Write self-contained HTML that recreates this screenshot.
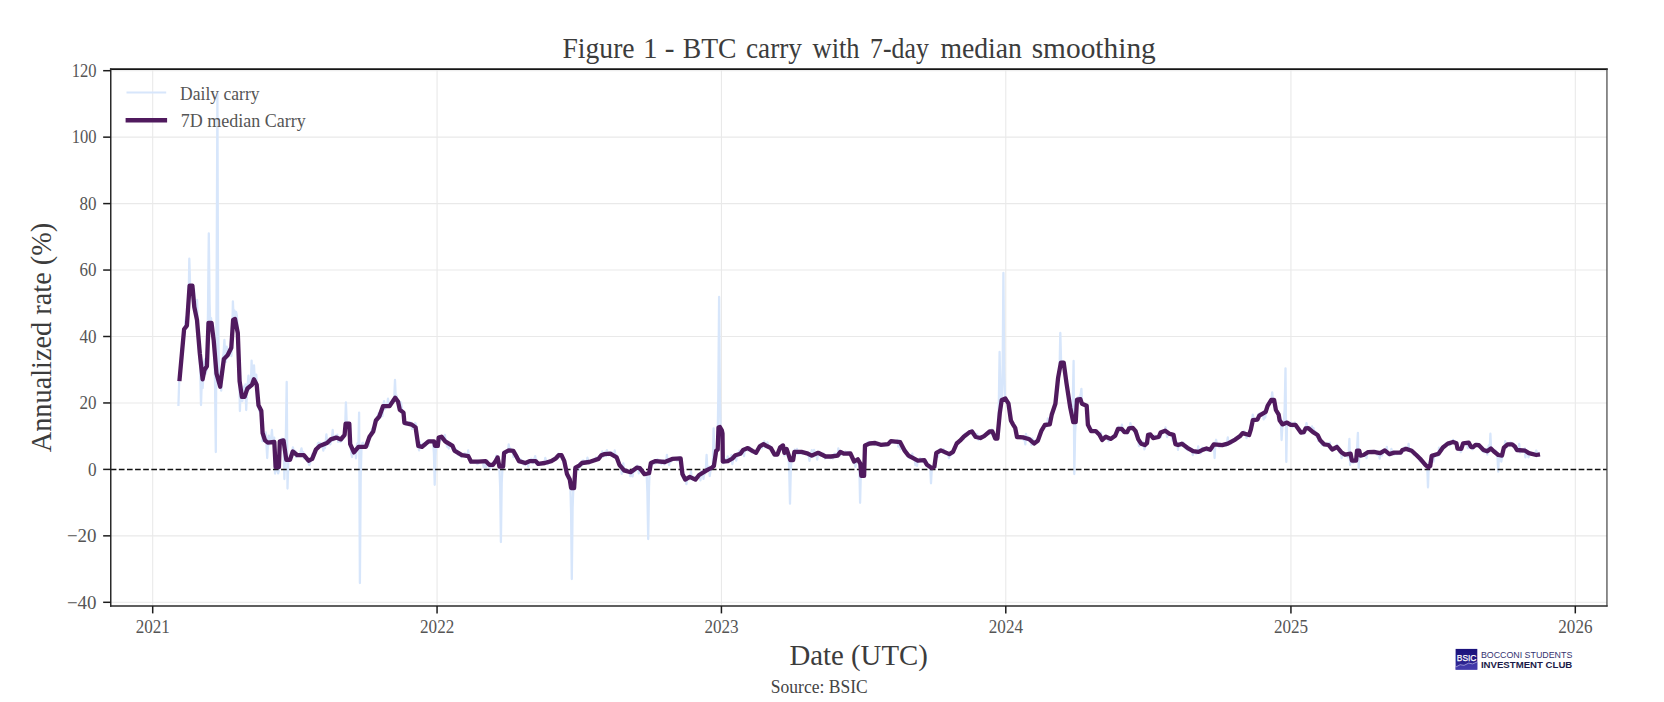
<!DOCTYPE html>
<html lang="en"><head><meta charset="utf-8"><title>Figure 1 - BTC carry with 7-day median smoothing</title>
<style>
html,body{margin:0;padding:0;background:#fff;}
body{width:1664px;height:702px;overflow:hidden;}
svg{display:block;}
text{font-family:"Liberation Serif", serif;}
.tk{font-size:18.2px;fill:#555;}
.sans{font-family:"Liberation Sans", sans-serif;}
</style></head><body>
<svg width="1664" height="702" viewBox="0 0 1664 702">
<rect width="1664" height="702" fill="#ffffff"/>

<g stroke="#e9e9e9" stroke-width="1.1" fill="none">
<line x1="152.70" y1="69.15" x2="152.70" y2="606.0"/>
<line x1="437.06" y1="69.15" x2="437.06" y2="606.0"/>
<line x1="721.43" y1="69.15" x2="721.43" y2="606.0"/>
<line x1="1005.79" y1="69.15" x2="1005.79" y2="606.0"/>
<line x1="1290.94" y1="69.15" x2="1290.94" y2="606.0"/>
<line x1="1575.30" y1="69.15" x2="1575.30" y2="606.0"/>
<line x1="110.75" y1="602.30" x2="1606.9" y2="602.30"/>
<line x1="110.75" y1="535.85" x2="1606.9" y2="535.85"/>
<line x1="110.75" y1="402.95" x2="1606.9" y2="402.95"/>
<line x1="110.75" y1="336.50" x2="1606.9" y2="336.50"/>
<line x1="110.75" y1="270.05" x2="1606.9" y2="270.05"/>
<line x1="110.75" y1="203.60" x2="1606.9" y2="203.60"/>
<line x1="110.75" y1="137.15" x2="1606.9" y2="137.15"/>
<line x1="110.75" y1="70.70" x2="1606.9" y2="70.70"/>
</g>
<path d="M178.4,406.0 L179.2,381.2 L180.0,374.9 L180.7,365.2 L181.5,348.5 L182.3,352.4 L183.1,342.7 L183.9,335.4 L184.6,334.9 L185.4,321.3 L186.2,317.2 L187.0,326.1 L187.7,307.7 L188.5,310.9 L189.3,258.7 L190.1,284.6 L190.9,286.4 L191.6,286.1 L192.4,286.3 L193.2,304.1 L194.0,289.1 L194.8,306.8 L195.5,312.8 L196.3,307.4 L197.1,300.0 L197.9,332.5 L198.7,346.5 L199.4,352.2 L200.2,368.5 L201.0,405.0 L201.8,380.6 L202.6,388.2 L203.3,377.2 L204.1,362.1 L204.9,359.5 L205.7,373.7 L206.4,370.8 L207.2,359.1 L208.0,311.2 L208.8,233.4 L209.6,303.1 L210.3,326.2 L211.1,318.2 L211.9,330.8 L212.7,332.3 L213.5,333.7 L214.2,349.2 L215.0,380.3 L215.8,452.0 L216.6,294.7 L217.4,93.6 L218.1,317.2 L218.9,375.4 L219.7,382.9 L220.5,378.1 L221.2,390.7 L222.0,373.0 L222.8,357.7 L223.6,353.5 L224.4,340.0 L225.1,354.0 L225.9,361.9 L226.7,346.7 L227.5,350.9 L228.3,355.5 L229.0,349.9 L229.8,353.0 L230.6,350.3 L231.4,356.0 L232.2,336.6 L232.9,301.3 L233.7,320.5 L234.5,310.7 L235.3,327.8 L236.1,311.9 L236.8,315.5 L237.6,326.6 L238.4,347.1 L239.2,367.2 L239.9,411.0 L240.7,387.8 L241.5,394.3 L242.3,401.0 L243.1,396.1 L243.8,386.6 L244.6,393.5 L245.4,384.3 L246.2,410.0 L247.0,391.4 L247.7,384.2 L248.5,375.6 L249.3,389.4 L250.1,386.5 L250.9,383.8 L251.6,360.7 L252.4,385.1 L253.2,378.8 L254.0,365.3 L254.7,379.0 L255.5,377.9 L256.3,374.7 L257.1,398.5 L257.9,393.9 L258.6,405.0 L259.4,411.4 L260.2,408.5 L261.0,411.1 L261.8,418.7 L262.5,441.3 L263.3,440.9 L264.1,436.3 L264.9,435.0 L265.7,432.4 L266.4,442.9 L267.2,458.0 L268.0,442.1 L268.8,435.6 L269.6,444.4 L270.3,441.5 L271.1,439.1 L271.9,430.0 L272.7,441.1 L273.4,441.7 L274.2,437.7 L275.0,473.5 L275.8,467.4 L276.6,466.9 L277.3,469.2 L278.1,473.4 L278.9,470.2 L279.7,450.1 L280.5,444.0 L281.2,439.3 L282.0,438.8 L282.8,440.5 L283.6,440.8 L284.4,479.0 L285.1,451.5 L285.9,435.3 L286.7,382.0 L287.5,488.5 L288.3,461.9 L289.0,459.0 L289.8,458.7 L290.6,460.2 L291.4,451.6 L292.1,453.2 L292.9,447.4 L293.7,451.4 L294.5,451.9 L295.3,451.0 L296.0,457.2 L296.8,454.3 L297.6,455.7 L298.4,455.5 L299.2,453.9 L299.9,456.1 L300.7,452.0 L301.5,448.3 L302.3,453.8 L303.1,452.0 L303.8,458.4 L304.6,456.2 L305.4,458.1 L306.2,458.3 L306.9,458.4 L307.7,461.5 L308.5,463.1 L309.3,465.0 L310.1,462.9 L310.8,458.9 L311.6,458.8 L312.4,454.2 L313.2,457.7 L314.0,454.6 L314.7,449.6 L315.5,453.2 L316.3,449.7 L317.1,448.8 L317.9,443.5 L318.6,442.7 L319.4,444.1 L320.2,442.9 L321.0,443.8 L321.8,445.1 L322.5,444.0 L323.3,450.6 L324.1,442.4 L324.9,448.1 L325.6,443.0 L326.4,434.3 L327.2,443.8 L328.0,441.5 L328.8,439.8 L329.5,443.0 L330.3,444.3 L331.1,440.9 L331.9,440.1 L332.7,430.0 L333.4,440.4 L334.2,437.2 L335.0,437.2 L335.8,435.6 L336.6,438.1 L337.3,434.6 L338.1,441.9 L338.9,437.6 L339.7,439.8 L340.4,442.0 L341.2,437.2 L342.0,440.3 L342.8,439.1 L343.6,436.6 L344.3,436.4 L345.1,429.9 L345.9,402.4 L346.7,423.4 L347.5,421.9 L348.2,427.9 L349.0,426.5 L349.8,436.8 L350.6,443.7 L351.4,454.3 L352.1,457.0 L352.9,450.6 L353.7,451.9 L354.5,451.6 L355.3,451.0 L356.0,458.3 L356.8,445.6 L357.6,443.2 L358.4,445.6 L359.1,412.6 L359.9,583.0 L360.7,476.8 L361.5,447.5 L362.3,443.2 L363.0,442.7 L363.8,445.8 L364.6,446.6 L365.4,445.0 L366.2,445.8 L366.9,446.1 L367.7,443.2 L368.5,446.1 L369.3,435.6 L370.1,438.2 L370.8,432.9 L371.6,430.7 L372.4,428.5 L373.2,428.3 L373.9,428.0 L374.7,421.1 L375.5,424.2 L376.3,418.9 L377.1,420.4 L377.8,415.5 L378.6,413.1 L379.4,413.9 L380.2,417.7 L381.0,413.8 L381.7,408.8 L382.5,416.0 L383.3,405.3 L384.1,401.2 L384.9,409.1 L385.6,407.7 L386.4,406.5 L387.2,404.6 L388.0,398.7 L388.8,404.2 L389.5,405.3 L390.3,403.1 L391.1,403.1 L391.9,402.4 L392.6,399.3 L393.4,402.4 L394.2,399.0 L395.0,380.0 L395.8,400.1 L396.5,395.4 L397.3,399.8 L398.1,402.0 L398.9,401.4 L399.7,410.9 L400.4,401.8 L401.2,403.4 L402.0,410.1 L402.8,414.7 L403.6,416.7 L404.3,422.1 L405.1,422.7 L405.9,424.6 L406.7,423.6 L407.4,423.6 L408.2,423.7 L409.0,423.5 L409.8,422.1 L410.6,422.4 L411.3,423.8 L412.1,429.2 L412.9,426.1 L413.7,426.2 L414.5,425.6 L415.2,423.0 L416.0,424.5 L416.8,433.6 L417.6,442.2 L418.4,446.8 L419.1,450.3 L419.9,442.2 L420.7,446.1 L421.5,445.8 L422.3,446.1 L423.0,443.8 L423.8,445.6 L424.6,444.5 L425.4,446.1 L426.1,443.0 L426.9,442.7 L427.7,443.2 L428.5,442.7 L429.3,441.9 L430.0,440.3 L430.8,441.3 L431.6,442.2 L432.4,442.1 L433.2,443.8 L433.9,452.6 L434.7,484.8 L435.5,454.8 L436.3,443.8 L437.1,447.3 L437.8,447.2 L438.6,437.1 L439.4,441.5 L440.2,437.3 L440.9,440.2 L441.7,436.5 L442.5,436.6 L443.3,437.9 L444.1,440.0 L444.8,434.8 L445.6,440.3 L446.4,443.9 L447.2,446.7 L448.0,442.0 L448.7,448.5 L449.5,446.5 L450.3,444.8 L451.1,443.9 L451.9,447.2 L452.6,449.0 L453.4,447.0 L454.2,450.1 L455.0,448.7 L455.8,449.1 L456.5,450.8 L457.3,452.8 L458.1,454.7 L458.9,451.8 L459.6,453.6 L460.4,455.0 L461.2,457.1 L462.0,455.0 L462.8,454.5 L463.5,455.5 L464.3,453.3 L465.1,453.4 L465.9,455.1 L466.7,456.9 L467.4,456.9 L468.2,450.4 L469.0,457.1 L469.8,459.4 L470.6,462.9 L471.3,461.3 L472.1,462.4 L472.9,461.3 L473.7,462.5 L474.5,461.3 L475.2,462.2 L476.0,461.6 L476.8,463.6 L477.6,464.0 L478.3,460.7 L479.1,462.0 L479.9,461.1 L480.7,461.3 L481.5,462.2 L482.2,461.3 L483.0,463.0 L483.8,467.2 L484.6,461.0 L485.4,461.0 L486.1,467.4 L486.9,461.1 L487.7,461.0 L488.5,465.0 L489.3,465.2 L490.0,469.1 L490.8,463.6 L491.6,464.2 L492.4,466.5 L493.1,465.9 L493.9,462.1 L494.7,461.0 L495.5,461.6 L496.3,455.7 L497.0,457.9 L497.8,458.4 L498.6,461.8 L499.4,467.7 L500.2,487.8 L500.9,542.0 L501.7,483.3 L502.5,466.8 L503.3,463.6 L504.1,456.5 L504.8,453.0 L505.6,451.7 L506.4,451.6 L507.2,452.2 L508.0,451.8 L508.7,444.4 L509.5,450.0 L510.3,448.3 L511.1,450.6 L511.8,449.9 L512.6,450.0 L513.4,457.2 L514.2,452.6 L515.0,453.1 L515.7,454.8 L516.5,454.8 L517.3,457.6 L518.1,460.0 L518.9,462.0 L519.6,462.0 L520.4,459.3 L521.2,460.8 L522.0,461.1 L522.8,461.0 L523.5,463.8 L524.3,464.8 L525.1,461.7 L525.9,463.2 L526.6,462.5 L527.4,462.5 L528.2,466.6 L529.0,460.7 L529.8,461.4 L530.5,460.6 L531.3,458.8 L532.1,461.9 L532.9,463.0 L533.7,458.8 L534.4,459.2 L535.2,456.1 L536.0,462.1 L536.8,464.3 L537.6,461.8 L538.3,463.2 L539.1,463.1 L539.9,464.4 L540.7,463.7 L541.5,464.0 L542.2,462.6 L543.0,463.4 L543.8,462.2 L544.6,462.1 L545.3,458.0 L546.1,461.1 L546.9,461.9 L547.7,464.2 L548.5,462.0 L549.2,461.2 L550.0,460.5 L550.8,461.6 L551.6,461.1 L552.4,459.9 L553.1,460.8 L553.9,460.9 L554.7,458.7 L555.5,457.1 L556.3,459.0 L557.0,457.8 L557.8,458.5 L558.6,453.7 L559.4,454.0 L560.1,455.4 L560.9,457.3 L561.7,457.9 L562.5,457.6 L563.3,462.4 L564.0,460.3 L564.8,467.2 L565.6,467.9 L566.4,470.4 L567.2,474.8 L567.9,476.3 L568.7,476.5 L569.5,478.4 L570.3,483.8 L571.1,513.2 L571.8,579.0 L572.6,508.0 L573.4,486.4 L574.2,486.8 L575.0,475.1 L575.7,467.3 L576.5,467.5 L577.3,466.6 L578.1,466.0 L578.8,469.8 L579.6,463.2 L580.4,463.3 L581.2,462.9 L582.0,465.3 L582.7,460.6 L583.5,460.5 L584.3,463.0 L585.1,461.7 L585.9,463.5 L586.6,462.7 L587.4,457.6 L588.2,460.5 L589.0,463.2 L589.8,461.3 L590.5,462.2 L591.3,460.6 L592.1,460.6 L592.9,460.8 L593.6,460.4 L594.4,459.5 L595.2,459.5 L596.0,457.5 L596.8,459.8 L597.5,459.7 L598.3,458.7 L599.1,458.6 L599.9,458.4 L600.7,455.7 L601.4,455.1 L602.2,451.4 L603.0,456.9 L603.8,454.5 L604.6,453.4 L605.3,451.8 L606.1,456.0 L606.9,450.1 L607.7,453.5 L608.5,455.3 L609.2,453.1 L610.0,453.0 L610.8,453.2 L611.6,452.2 L612.3,454.7 L613.1,454.8 L613.9,456.1 L614.7,450.4 L615.5,456.8 L616.2,454.9 L617.0,457.8 L617.8,460.5 L618.6,460.6 L619.4,466.7 L620.1,466.6 L620.9,466.3 L621.7,473.8 L622.5,468.2 L623.3,463.3 L624.0,471.9 L624.8,469.5 L625.6,470.4 L626.4,470.6 L627.2,469.9 L627.9,472.0 L628.7,471.1 L629.5,472.7 L630.3,476.2 L631.0,471.7 L631.8,473.4 L632.6,476.4 L633.4,470.0 L634.2,469.8 L634.9,471.4 L635.7,470.3 L636.5,468.1 L637.3,465.7 L638.1,468.5 L638.8,473.4 L639.6,467.4 L640.4,469.1 L641.2,470.1 L642.0,471.5 L642.7,470.2 L643.5,473.7 L644.3,473.3 L645.1,474.2 L645.8,473.2 L646.6,473.3 L647.4,491.9 L648.2,539.0 L649.0,487.6 L649.7,469.1 L650.5,464.4 L651.3,463.1 L652.1,462.6 L652.9,464.0 L653.6,461.5 L654.4,462.1 L655.2,463.6 L656.0,461.9 L656.8,460.3 L657.5,459.2 L658.3,462.3 L659.1,461.6 L659.9,462.5 L660.7,460.7 L661.4,464.0 L662.2,461.8 L663.0,462.3 L663.8,460.4 L664.5,464.3 L665.3,461.5 L666.1,462.4 L666.9,454.8 L667.7,461.4 L668.4,462.0 L669.2,465.1 L670.0,459.4 L670.8,461.8 L671.6,460.2 L672.3,460.1 L673.1,458.6 L673.9,458.6 L674.7,458.9 L675.5,458.5 L676.2,458.5 L677.0,460.8 L677.8,459.7 L678.6,459.8 L679.3,457.2 L680.1,458.1 L680.9,460.3 L681.7,466.2 L682.5,474.7 L683.2,471.8 L684.0,479.6 L684.8,478.5 L685.6,477.1 L686.4,484.2 L687.1,479.0 L687.9,478.9 L688.7,478.1 L689.5,479.4 L690.3,478.2 L691.0,471.5 L691.8,478.5 L692.6,479.5 L693.4,478.2 L694.2,476.7 L694.9,479.3 L695.7,479.5 L696.5,477.5 L697.3,477.4 L698.0,477.9 L698.8,475.7 L699.6,473.8 L700.4,480.3 L701.2,471.5 L701.9,473.1 L702.7,472.0 L703.5,478.8 L704.3,471.7 L705.1,473.7 L705.8,470.1 L706.6,455.0 L707.4,469.8 L708.2,468.0 L709.0,466.8 L709.7,476.0 L710.5,470.5 L711.3,468.9 L712.1,466.2 L712.8,465.3 L713.6,428.5 L714.4,456.6 L715.2,456.2 L716.0,456.0 L716.7,450.7 L717.5,449.5 L718.3,396.6 L719.1,297.0 L719.9,398.3 L720.6,429.7 L721.4,429.0 L722.2,431.9 L723.0,463.0 L723.8,463.0 L724.5,461.5 L725.3,459.1 L726.1,461.5 L726.9,461.6 L727.7,456.3 L728.4,460.2 L729.2,458.6 L730.0,460.5 L730.8,458.6 L731.5,455.1 L732.3,464.0 L733.1,458.9 L733.9,456.0 L734.7,456.0 L735.4,456.0 L736.2,460.5 L737.0,455.2 L737.8,453.8 L738.6,455.6 L739.3,450.6 L740.1,452.1 L740.9,450.7 L741.7,452.2 L742.5,450.6 L743.2,451.6 L744.0,456.1 L744.8,449.2 L745.6,449.5 L746.3,449.3 L747.1,450.1 L747.9,450.5 L748.7,448.6 L749.5,447.1 L750.2,449.1 L751.0,450.8 L751.8,452.4 L752.6,450.9 L753.4,450.5 L754.1,451.5 L754.9,453.4 L755.7,453.9 L756.5,452.6 L757.3,451.4 L758.0,450.1 L758.8,449.7 L759.6,446.2 L760.4,444.1 L761.2,446.2 L761.9,448.4 L762.7,445.1 L763.5,444.2 L764.3,441.3 L765.0,447.3 L765.8,445.9 L766.6,446.5 L767.4,442.4 L768.2,446.9 L768.9,446.6 L769.7,445.7 L770.5,447.5 L771.3,449.1 L772.1,449.4 L772.8,450.1 L773.6,454.2 L774.4,452.5 L775.2,453.3 L776.0,455.5 L776.7,454.7 L777.5,454.7 L778.3,451.6 L779.1,450.7 L779.8,446.8 L780.6,447.0 L781.4,449.5 L782.2,445.7 L783.0,446.0 L783.7,450.3 L784.5,455.6 L785.3,451.6 L786.1,451.6 L786.9,450.2 L787.6,451.6 L788.4,454.4 L789.2,469.1 L790.0,503.7 L790.8,470.0 L791.5,459.4 L792.3,459.2 L793.1,458.8 L793.9,453.0 L794.7,449.6 L795.4,451.7 L796.2,452.7 L797.0,448.9 L797.8,454.2 L798.5,451.3 L799.3,453.4 L800.1,453.7 L800.9,453.1 L801.7,452.3 L802.4,453.6 L803.2,451.6 L804.0,451.6 L804.8,452.9 L805.6,453.3 L806.3,453.5 L807.1,452.9 L807.9,454.1 L808.7,455.7 L809.5,460.8 L810.2,454.7 L811.0,454.7 L811.8,450.1 L812.6,455.8 L813.4,456.7 L814.1,449.9 L814.9,454.2 L815.7,453.7 L816.5,454.9 L817.2,459.6 L818.0,453.5 L818.8,455.4 L819.6,454.8 L820.4,455.6 L821.1,453.7 L821.9,454.7 L822.7,454.8 L823.5,453.4 L824.3,456.2 L825.0,458.5 L825.8,457.2 L826.6,456.0 L827.4,456.2 L828.2,456.1 L828.9,457.0 L829.7,456.3 L830.5,458.2 L831.3,456.7 L832.0,456.5 L832.8,458.5 L833.6,455.4 L834.4,453.8 L835.2,455.7 L835.9,453.8 L836.7,454.7 L837.5,456.3 L838.3,448.5 L839.1,455.2 L839.8,451.0 L840.6,455.3 L841.4,453.2 L842.2,452.9 L843.0,453.8 L843.7,453.2 L844.5,453.2 L845.3,451.4 L846.1,454.1 L846.9,454.3 L847.6,452.2 L848.4,454.3 L849.2,453.0 L850.0,453.5 L850.7,454.9 L851.5,456.7 L852.3,456.0 L853.1,459.4 L853.9,463.3 L854.6,459.8 L855.4,466.8 L856.2,460.8 L857.0,459.6 L857.8,459.3 L858.5,461.0 L859.3,463.9 L860.1,502.8 L860.9,469.9 L861.7,476.8 L862.4,475.4 L863.2,476.9 L864.0,474.8 L864.8,454.6 L865.5,445.7 L866.3,446.7 L867.1,444.6 L867.9,441.9 L868.7,442.8 L869.4,443.9 L870.2,443.8 L871.0,443.7 L871.8,443.3 L872.6,443.5 L873.3,443.3 L874.1,443.1 L874.9,444.5 L875.7,443.4 L876.5,443.6 L877.2,445.4 L878.0,443.6 L878.8,444.6 L879.6,444.4 L880.4,445.2 L881.1,444.5 L881.9,444.9 L882.7,445.7 L883.5,445.3 L884.2,444.6 L885.0,445.5 L885.8,443.8 L886.6,445.4 L887.4,444.9 L888.1,444.2 L888.9,443.1 L889.7,441.9 L890.5,441.5 L891.3,442.6 L892.0,442.0 L892.8,440.2 L893.6,442.6 L894.4,441.8 L895.2,443.1 L895.9,441.3 L896.7,441.2 L897.5,440.0 L898.3,446.6 L899.0,443.9 L899.8,440.6 L900.6,449.4 L901.4,444.6 L902.2,447.0 L902.9,447.1 L903.7,449.1 L904.5,450.2 L905.3,449.2 L906.1,452.4 L906.8,453.3 L907.6,455.7 L908.4,454.7 L909.2,458.1 L910.0,458.1 L910.7,456.7 L911.5,457.1 L912.3,453.6 L913.1,458.9 L913.9,457.2 L914.6,459.4 L915.4,465.0 L916.2,460.9 L917.0,465.8 L917.7,461.0 L918.5,461.5 L919.3,459.4 L920.1,458.2 L920.9,460.2 L921.6,460.8 L922.4,459.0 L923.2,461.7 L924.0,459.9 L924.8,461.0 L925.5,463.9 L926.3,462.3 L927.1,464.9 L927.9,466.3 L928.7,465.5 L929.4,467.6 L930.2,465.9 L931.0,483.3 L931.8,468.9 L932.5,467.3 L933.3,467.3 L934.1,466.1 L934.9,463.3 L935.7,458.5 L936.4,452.5 L937.2,451.7 L938.0,456.7 L938.8,451.6 L939.6,449.5 L940.3,450.6 L941.1,450.5 L941.9,451.9 L942.7,451.7 L943.5,449.2 L944.2,451.9 L945.0,453.6 L945.8,453.3 L946.6,452.5 L947.4,453.0 L948.1,453.3 L948.9,458.0 L949.7,456.2 L950.5,454.8 L951.2,454.9 L952.0,452.4 L952.8,453.7 L953.6,451.2 L954.4,448.3 L955.1,446.3 L955.9,445.1 L956.7,443.4 L957.5,442.9 L958.3,443.5 L959.0,441.8 L959.8,441.3 L960.6,439.9 L961.4,438.1 L962.2,439.2 L962.9,436.9 L963.7,439.0 L964.5,433.8 L965.3,435.7 L966.0,434.2 L966.8,434.3 L967.6,435.3 L968.4,434.4 L969.2,432.5 L969.9,432.4 L970.7,432.4 L971.5,429.9 L972.3,431.2 L973.1,432.8 L973.8,432.6 L974.6,436.3 L975.4,434.3 L976.2,437.2 L977.0,433.8 L977.7,438.0 L978.5,439.9 L979.3,437.1 L980.1,437.2 L980.9,437.7 L981.6,437.1 L982.4,437.5 L983.2,436.8 L984.0,435.6 L984.7,435.2 L985.5,435.1 L986.3,433.7 L987.1,433.9 L987.9,432.1 L988.6,433.2 L989.4,433.9 L990.2,431.3 L991.0,433.8 L991.8,429.4 L992.5,431.4 L993.3,434.2 L994.1,436.6 L994.9,438.9 L995.7,439.4 L996.4,436.5 L997.2,434.3 L998.0,435.8 L998.8,406.1 L999.6,352.0 L1000.3,395.4 L1001.1,402.9 L1001.9,399.9 L1002.7,364.2 L1003.4,273.0 L1004.2,371.2 L1005.0,397.6 L1005.8,401.0 L1006.6,399.9 L1007.3,401.7 L1008.1,402.9 L1008.9,407.3 L1009.7,413.8 L1010.5,416.4 L1011.2,421.0 L1012.0,422.4 L1012.8,424.6 L1013.6,423.4 L1014.4,427.5 L1015.1,428.2 L1015.9,430.7 L1016.7,433.5 L1017.5,438.0 L1018.2,436.8 L1019.0,437.3 L1019.8,437.5 L1020.6,437.3 L1021.4,437.6 L1022.1,436.7 L1022.9,436.5 L1023.7,439.9 L1024.5,438.3 L1025.3,444.4 L1026.0,433.9 L1026.8,439.0 L1027.6,438.2 L1028.4,436.7 L1029.2,438.9 L1029.9,438.3 L1030.7,439.6 L1031.5,445.2 L1032.3,438.4 L1033.1,440.3 L1033.8,443.3 L1034.6,440.9 L1035.4,441.6 L1036.2,441.6 L1036.9,441.4 L1037.7,440.9 L1038.5,438.2 L1039.3,437.0 L1040.1,433.6 L1040.8,431.7 L1041.6,430.7 L1042.4,430.1 L1043.2,427.6 L1044.0,425.9 L1044.7,425.6 L1045.5,423.7 L1046.3,426.5 L1047.1,424.9 L1047.9,418.3 L1048.6,422.3 L1049.4,423.3 L1050.2,420.1 L1051.0,419.4 L1051.7,414.1 L1052.5,411.4 L1053.3,407.8 L1054.1,405.5 L1054.9,404.0 L1055.6,400.8 L1056.4,397.6 L1057.2,386.7 L1058.0,378.1 L1058.8,375.1 L1059.5,373.4 L1060.3,333.0 L1061.1,361.7 L1061.9,362.3 L1062.7,361.3 L1063.4,362.4 L1064.2,365.6 L1065.0,371.5 L1065.8,377.6 L1066.6,383.3 L1067.3,389.1 L1068.1,395.5 L1068.9,399.1 L1069.7,403.8 L1070.4,408.0 L1071.2,414.2 L1072.0,413.7 L1072.8,402.6 L1073.6,361.0 L1074.3,474.0 L1075.1,433.6 L1075.9,419.2 L1076.7,406.9 L1077.5,399.9 L1078.2,397.1 L1079.0,397.0 L1079.8,399.1 L1080.6,395.1 L1081.4,388.9 L1082.1,404.1 L1082.9,403.9 L1083.7,403.7 L1084.5,404.5 L1085.2,404.7 L1086.0,406.3 L1086.8,406.5 L1087.6,420.9 L1088.4,426.3 L1089.1,428.4 L1089.9,430.5 L1090.7,430.1 L1091.5,431.5 L1092.3,429.5 L1093.0,431.0 L1093.8,430.2 L1094.6,431.3 L1095.4,431.4 L1096.2,432.4 L1096.9,431.9 L1097.7,433.1 L1098.5,433.7 L1099.3,433.1 L1100.1,435.3 L1100.8,432.7 L1101.6,438.4 L1102.4,437.5 L1103.2,439.6 L1103.9,436.2 L1104.7,438.4 L1105.5,438.3 L1106.3,436.8 L1107.1,437.9 L1107.8,438.9 L1108.6,441.0 L1109.4,437.9 L1110.2,437.4 L1111.0,438.7 L1111.7,437.4 L1112.5,439.0 L1113.3,435.9 L1114.1,434.7 L1114.9,436.5 L1115.6,435.4 L1116.4,432.7 L1117.2,429.7 L1118.0,428.5 L1118.7,426.7 L1119.5,431.2 L1120.3,431.2 L1121.1,429.2 L1121.9,424.6 L1122.6,429.1 L1123.4,431.0 L1124.2,432.7 L1125.0,432.6 L1125.8,431.5 L1126.5,431.8 L1127.3,433.6 L1128.1,429.7 L1128.9,428.8 L1129.7,428.1 L1130.4,423.1 L1131.2,427.8 L1132.0,428.7 L1132.8,427.2 L1133.6,428.6 L1134.3,431.9 L1135.1,432.8 L1135.9,431.9 L1136.7,436.1 L1137.4,437.4 L1138.2,440.4 L1139.0,446.2 L1139.8,441.9 L1140.6,442.2 L1141.3,445.0 L1142.1,444.7 L1142.9,442.0 L1143.7,445.6 L1144.5,449.4 L1145.2,445.3 L1146.0,441.7 L1146.8,441.0 L1147.6,439.4 L1148.4,433.9 L1149.1,435.0 L1149.9,434.3 L1150.7,435.7 L1151.5,437.0 L1152.2,435.9 L1153.0,437.8 L1153.8,437.2 L1154.6,435.5 L1155.4,437.2 L1156.1,437.6 L1156.9,437.0 L1157.7,437.2 L1158.5,438.0 L1159.3,436.3 L1160.0,435.2 L1160.8,437.3 L1161.6,432.5 L1162.4,431.3 L1163.2,432.2 L1163.9,431.5 L1164.7,431.7 L1165.5,427.5 L1166.3,432.4 L1167.1,437.0 L1167.8,432.1 L1168.6,433.8 L1169.4,432.9 L1170.2,433.9 L1170.9,433.9 L1171.7,433.3 L1172.5,440.7 L1173.3,438.3 L1174.1,436.6 L1174.8,441.2 L1175.6,444.5 L1176.4,443.1 L1177.2,442.4 L1178.0,449.8 L1178.7,444.4 L1179.5,444.2 L1180.3,445.8 L1181.1,445.6 L1181.9,445.1 L1182.6,443.9 L1183.4,442.5 L1184.2,445.4 L1185.0,446.6 L1185.8,448.9 L1186.5,446.8 L1187.3,449.9 L1188.1,450.3 L1188.9,448.8 L1189.6,449.3 L1190.4,449.1 L1191.2,449.6 L1192.0,449.3 L1192.8,455.0 L1193.5,450.5 L1194.3,451.9 L1195.1,452.0 L1195.9,453.5 L1196.7,453.5 L1197.4,452.8 L1198.2,446.5 L1199.0,452.2 L1199.8,451.6 L1200.6,453.2 L1201.3,450.1 L1202.1,447.8 L1202.9,448.9 L1203.7,449.1 L1204.4,449.4 L1205.2,448.8 L1206.0,448.4 L1206.8,450.9 L1207.6,448.9 L1208.3,448.1 L1209.1,449.3 L1209.9,449.4 L1210.7,450.4 L1211.5,448.8 L1212.2,445.7 L1213.0,444.6 L1213.8,443.0 L1214.6,458.0 L1215.4,442.2 L1216.1,439.8 L1216.9,444.3 L1217.7,444.2 L1218.5,445.7 L1219.3,447.2 L1220.0,443.7 L1220.8,444.7 L1221.6,444.6 L1222.4,444.3 L1223.1,445.2 L1223.9,444.4 L1224.7,443.2 L1225.5,443.0 L1226.3,446.0 L1227.0,443.0 L1227.8,437.5 L1228.6,443.6 L1229.4,442.0 L1230.2,441.2 L1230.9,443.6 L1231.7,440.7 L1232.5,441.4 L1233.3,439.8 L1234.1,440.2 L1234.8,440.7 L1235.6,439.9 L1236.4,438.8 L1237.2,439.1 L1237.9,437.3 L1238.7,437.4 L1239.5,436.2 L1240.3,436.0 L1241.1,435.5 L1241.8,434.7 L1242.6,433.4 L1243.4,432.3 L1244.2,431.3 L1245.0,435.2 L1245.7,432.8 L1246.5,438.1 L1247.3,436.4 L1248.1,434.1 L1248.9,435.6 L1249.6,433.9 L1250.4,426.4 L1251.2,428.3 L1252.0,424.0 L1252.8,414.7 L1253.5,418.7 L1254.3,419.9 L1255.1,419.5 L1255.9,419.2 L1256.6,418.8 L1257.4,420.2 L1258.2,414.5 L1259.0,417.3 L1259.8,413.4 L1260.5,414.6 L1261.3,414.0 L1262.1,414.1 L1262.9,413.1 L1263.7,419.3 L1264.4,411.3 L1265.2,417.6 L1266.0,411.1 L1266.8,408.5 L1267.6,408.3 L1268.3,404.5 L1269.1,403.7 L1269.9,401.0 L1270.7,402.3 L1271.4,400.2 L1272.2,392.4 L1273.0,400.8 L1273.8,399.9 L1274.6,402.8 L1275.3,407.5 L1276.1,409.5 L1276.9,410.7 L1277.7,411.6 L1278.5,419.1 L1279.2,417.2 L1280.0,420.9 L1280.8,419.7 L1281.6,440.0 L1282.4,425.7 L1283.1,424.2 L1283.9,422.2 L1284.7,408.1 L1285.5,368.3 L1286.3,461.9 L1287.0,422.4 L1287.8,421.9 L1288.6,423.9 L1289.4,423.9 L1290.1,423.4 L1290.9,422.5 L1291.7,423.7 L1292.5,427.1 L1293.3,425.6 L1294.0,424.3 L1294.8,422.5 L1295.6,424.4 L1296.4,426.5 L1297.2,427.2 L1297.9,428.9 L1298.7,429.1 L1299.5,429.2 L1300.3,432.0 L1301.1,433.2 L1301.8,432.3 L1302.6,432.5 L1303.4,433.6 L1304.2,433.3 L1304.9,429.1 L1305.7,430.1 L1306.5,423.2 L1307.3,427.6 L1308.1,428.0 L1308.8,428.7 L1309.6,430.1 L1310.4,427.6 L1311.2,431.7 L1312.0,426.4 L1312.7,432.0 L1313.5,428.1 L1314.3,433.6 L1315.1,431.2 L1315.9,432.5 L1316.6,436.7 L1317.4,433.3 L1318.2,440.7 L1319.0,438.4 L1319.8,439.5 L1320.5,440.6 L1321.3,443.4 L1322.1,445.3 L1322.9,443.6 L1323.6,444.5 L1324.4,444.9 L1325.2,444.1 L1326.0,444.4 L1326.8,444.5 L1327.5,445.4 L1328.3,443.4 L1329.1,445.9 L1329.9,442.7 L1330.7,449.9 L1331.4,448.9 L1332.2,449.8 L1333.0,448.4 L1333.8,448.3 L1334.6,448.5 L1335.3,446.6 L1336.1,448.2 L1336.9,444.8 L1337.7,448.1 L1338.5,447.7 L1339.2,452.0 L1340.0,450.6 L1340.8,450.7 L1341.6,458.0 L1342.3,454.4 L1343.1,453.9 L1343.9,453.5 L1344.7,455.1 L1345.5,454.2 L1346.2,455.5 L1347.0,454.9 L1347.8,457.3 L1348.6,453.5 L1349.4,439.0 L1350.1,465.0 L1350.9,457.3 L1351.7,459.9 L1352.5,459.7 L1353.3,462.9 L1354.0,461.6 L1354.8,461.6 L1355.6,460.7 L1356.4,457.3 L1357.1,448.8 L1357.9,432.8 L1358.7,468.0 L1359.5,450.8 L1360.3,453.6 L1361.0,455.1 L1361.8,456.3 L1362.6,455.8 L1363.4,455.0 L1364.2,454.5 L1364.9,453.6 L1365.7,454.2 L1366.5,458.1 L1367.3,452.6 L1368.1,452.5 L1368.8,452.2 L1369.6,452.3 L1370.4,451.0 L1371.2,453.1 L1372.0,453.1 L1372.7,452.4 L1373.5,451.2 L1374.3,451.5 L1375.1,450.6 L1375.8,451.5 L1376.6,452.6 L1377.4,454.9 L1378.2,452.5 L1379.0,453.9 L1379.7,458.7 L1380.5,453.4 L1381.3,452.8 L1382.1,455.5 L1382.9,451.4 L1383.6,452.1 L1384.4,451.4 L1385.2,449.6 L1386.0,450.3 L1386.8,446.8 L1387.5,453.3 L1388.3,454.1 L1389.1,455.6 L1389.9,453.7 L1390.6,453.4 L1391.4,448.9 L1392.2,452.8 L1393.0,452.7 L1393.8,452.9 L1394.5,454.6 L1395.3,453.0 L1396.1,452.6 L1396.9,454.1 L1397.7,453.9 L1398.4,452.8 L1399.2,452.5 L1400.0,453.5 L1400.8,451.2 L1401.6,453.5 L1402.3,450.4 L1403.1,449.5 L1403.9,450.9 L1404.7,447.2 L1405.5,449.8 L1406.2,449.0 L1407.0,449.4 L1407.8,450.3 L1408.6,443.9 L1409.3,450.7 L1410.1,450.0 L1410.9,449.2 L1411.7,450.8 L1412.5,451.8 L1413.2,453.4 L1414.0,455.1 L1414.8,453.2 L1415.6,454.7 L1416.4,454.3 L1417.1,454.2 L1417.9,455.5 L1418.7,456.5 L1419.5,460.5 L1420.3,461.2 L1421.0,458.6 L1421.8,459.8 L1422.6,461.4 L1423.4,462.0 L1424.1,464.5 L1424.9,464.4 L1425.7,465.0 L1426.5,466.4 L1427.3,466.9 L1428.0,487.4 L1428.8,463.0 L1429.6,465.8 L1430.4,462.6 L1431.2,459.3 L1431.9,456.5 L1432.7,455.6 L1433.5,461.5 L1434.3,456.1 L1435.1,454.7 L1435.8,454.8 L1436.6,453.7 L1437.4,454.4 L1438.2,456.1 L1439.0,447.7 L1439.7,452.9 L1440.5,451.4 L1441.3,447.6 L1442.1,450.9 L1442.8,446.7 L1443.6,445.8 L1444.4,445.6 L1445.2,446.1 L1446.0,443.5 L1446.7,444.1 L1447.5,444.3 L1448.3,442.7 L1449.1,443.3 L1449.9,445.3 L1450.6,443.4 L1451.4,442.3 L1452.2,441.7 L1453.0,439.9 L1453.8,442.2 L1454.5,442.9 L1455.3,441.6 L1456.1,442.3 L1456.9,444.9 L1457.6,448.3 L1458.4,450.1 L1459.2,448.3 L1460.0,448.3 L1460.8,452.2 L1461.5,449.4 L1462.3,444.9 L1463.1,442.9 L1463.9,444.2 L1464.7,442.8 L1465.4,443.4 L1466.2,441.9 L1467.0,442.6 L1467.8,448.0 L1468.6,442.3 L1469.3,443.6 L1470.1,446.6 L1470.9,447.3 L1471.7,446.3 L1472.5,449.3 L1473.2,447.8 L1474.0,446.4 L1474.8,445.9 L1475.6,444.7 L1476.3,445.6 L1477.1,443.7 L1477.9,446.2 L1478.7,444.8 L1479.5,446.0 L1480.2,446.6 L1481.0,446.7 L1481.8,450.4 L1482.6,448.8 L1483.4,452.1 L1484.1,450.8 L1484.9,452.3 L1485.7,451.7 L1486.5,448.8 L1487.3,454.6 L1488.0,449.9 L1488.8,445.5 L1489.6,451.5 L1490.4,433.7 L1491.1,449.6 L1491.9,449.8 L1492.7,450.0 L1493.5,451.9 L1494.3,452.2 L1495.0,451.0 L1495.8,450.7 L1496.6,453.8 L1497.4,454.0 L1498.2,471.7 L1498.9,456.3 L1499.7,460.7 L1500.5,454.5 L1501.3,461.6 L1502.1,456.7 L1502.8,452.4 L1503.6,448.4 L1504.4,446.9 L1505.2,441.1 L1506.0,445.2 L1506.7,447.2 L1507.5,445.6 L1508.3,444.9 L1509.1,445.7 L1509.8,442.9 L1510.6,442.4 L1511.4,443.7 L1512.2,445.2 L1513.0,445.0 L1513.7,444.0 L1514.5,446.4 L1515.3,447.2 L1516.1,450.9 L1516.9,450.8 L1517.6,450.5 L1518.4,450.4 L1519.2,444.0 L1520.0,452.5 L1520.8,451.3 L1521.5,451.0 L1522.3,451.6 L1523.1,449.2 L1523.9,450.7 L1524.7,448.4 L1525.4,457.3 L1526.2,451.1 L1527.0,452.4 L1527.8,451.6 L1528.5,457.3 L1529.3,454.2 L1530.1,452.8 L1530.9,454.3 L1531.7,453.1 L1532.4,454.4 L1533.2,454.0 L1534.0,452.9 L1534.8,453.1 L1535.6,453.6 L1536.3,450.5 L1537.1,454.3 L1537.9,453.3 L1538.7,454.8 L1539.5,456.2" fill="none" stroke="#d7e6fb" stroke-width="2.3" stroke-linejoin="round"/>
<line x1="110.75" y1="469.4" x2="1606.9" y2="469.4" stroke="#111" stroke-width="1.5" stroke-dasharray="5.66 2.45"/>
<path d="M179.4,381.1 L184.1,329.3 L186.9,325.6 L189.6,285.7 L192.4,285.7 L194.3,307.0 L197.0,320.0 L199.8,353.3 L202.6,379.3 L204.4,370.0 L206.9,366.3 L208.5,322.8 L211.5,322.8 L213.7,340.4 L216.5,373.7 L220.2,386.7 L223.9,358.9 L227.6,355.2 L231.3,347.8 L233.1,320.0 L235.0,319.0 L237.8,333.0 L239.6,381.1 L241.9,396.9 L244.6,396.9 L247.4,388.5 L252.0,384.8 L253.9,379.3 L256.7,384.8 L258.5,405.2 L261.3,410.7 L262.6,433.0 L265.0,440.4 L267.8,442.6 L274.3,441.9 L275.6,467.2 L278.9,467.2 L279.8,441.3 L283.5,440.4 L286.3,459.8 L290.0,459.8 L292.8,451.5 L297.4,455.2 L303.9,455.2 L308.5,460.7 L312.2,458.9 L315.9,449.6 L319.6,445.9 L327.0,443.1 L330.7,439.4 L336.3,437.6 L340.9,439.4 L344.6,434.8 L345.6,423.7 L349.3,423.7 L350.2,444.1 L353.9,452.4 L358.5,446.9 L365.9,446.9 L369.5,436.7 L373.2,431.5 L375.9,420.5 L379.4,416.3 L383.1,406.1 L389.6,406.1 L395.2,397.8 L398.0,401.5 L399.8,409.8 L403.5,412.6 L404.4,422.8 L411.9,424.6 L415.6,427.4 L418.3,445.9 L422.0,446.9 L428.5,441.3 L434.1,441.3 L435.0,445.9 L437.8,445.9 L438.7,437.6 L441.5,436.7 L445.2,441.3 L452.6,445.9 L454.4,450.6 L461.9,455.2 L468.3,456.1 L471.1,461.7 L478.5,461.7 L485.6,461.1 L489.3,464.8 L493.0,464.8 L495.7,461.1 L497.6,457.4 L499.4,466.7 L503.1,466.7 L504.1,452.8 L508.7,450.4 L513.3,450.9 L517.0,457.4 L518.9,461.1 L525.4,463.0 L530.0,461.1 L535.6,461.1 L538.3,463.9 L544.8,463.0 L551.3,461.1 L555.9,458.3 L558.7,455.2 L561.5,455.2 L564.3,461.1 L567.0,474.1 L569.8,479.6 L571.1,488.0 L574.1,488.0 L575.4,467.6 L579.1,465.7 L581.9,463.0 L589.3,462.0 L598.5,458.9 L601.3,455.2 L604.6,454.1 L610.2,453.7 L616.7,457.4 L619.4,464.8 L624.1,470.4 L630.6,472.2 L637.0,467.6 L639.8,468.1 L644.4,474.1 L649.1,473.1 L650.9,463.0 L655.6,461.1 L664.8,462.0 L672.2,458.9 L680.6,458.3 L682.4,474.1 L685.2,479.6 L689.8,476.9 L695.4,479.6 L699.1,475.0 L708.3,469.4 L712.0,467.6 L713.9,465.9 L716.2,450.6 L717.7,449.7 L718.5,427.6 L719.9,427.0 L721.8,430.3 L722.5,433.5 L722.8,461.6 L727.8,461.1 L732.4,458.5 L735.4,455.2 L740.4,453.7 L743.1,450.0 L747.8,448.1 L752.4,450.9 L756.1,452.8 L759.8,446.3 L763.5,444.1 L767.2,446.3 L770.9,448.1 L774.6,454.6 L777.4,454.6 L780.2,447.2 L783.0,445.4 L784.4,452.8 L786.7,449.1 L790.4,460.2 L793.1,460.2 L794.4,451.9 L801.5,451.9 L807.0,453.3 L811.7,455.6 L818.1,452.8 L825.6,456.5 L831.1,456.5 L837.6,455.6 L840.4,451.9 L844.1,453.7 L850.4,453.5 L854.1,461.5 L857.8,459.3 L860.4,463.9 L861.3,475.9 L864.1,475.9 L865.0,445.4 L869.6,443.5 L875.2,443.0 L880.7,444.8 L888.1,444.1 L890.9,441.1 L900.2,442.2 L904.8,450.9 L908.5,455.6 L917.8,460.7 L924.3,460.2 L927.0,464.8 L931.7,468.1 L934.4,466.7 L936.3,452.8 L940.9,450.4 L949.3,454.1 L953.0,451.9 L956.7,443.5 L960.0,440.7 L963.7,436.7 L969.3,432.4 L972.0,431.5 L975.7,437.0 L980.4,438.0 L984.1,436.1 L989.6,431.5 L992.4,431.5 L995.2,438.5 L997.4,438.5 L999.8,413.0 L1001.7,400.0 L1005.4,398.5 L1008.5,403.7 L1010.9,420.4 L1012.8,424.1 L1015.2,427.8 L1017.0,437.0 L1023.0,437.4 L1029.4,439.3 L1034.1,443.5 L1037.8,440.7 L1041.5,430.6 L1044.8,425.0 L1049.8,424.4 L1051.7,414.8 L1055.4,403.7 L1058.1,377.8 L1060.9,362.6 L1063.7,362.6 L1066.5,383.3 L1070.2,407.4 L1073.3,422.2 L1075.7,422.2 L1077.0,399.6 L1080.4,399.1 L1081.9,403.7 L1086.7,405.8 L1087.9,424.8 L1091.1,431.1 L1095.7,431.1 L1099.4,434.8 L1102.2,440.0 L1105.9,436.7 L1110.6,438.9 L1115.2,435.7 L1118.0,428.9 L1121.7,428.9 L1124.4,432.0 L1127.2,432.0 L1129.1,428.3 L1132.8,427.8 L1135.6,431.1 L1138.3,439.4 L1141.1,443.7 L1144.8,445.0 L1147.0,443.1 L1148.1,434.8 L1150.4,434.4 L1153.1,438.1 L1158.7,437.0 L1160.6,432.6 L1165.2,430.7 L1169.8,433.9 L1173.5,434.8 L1175.4,444.1 L1178.1,445.0 L1181.9,443.7 L1187.4,447.8 L1193.0,451.1 L1198.5,451.9 L1203.1,449.6 L1206.5,448.5 L1210.2,449.8 L1213.9,444.3 L1222.2,445.2 L1227.8,443.7 L1235.2,439.6 L1239.8,436.3 L1242.6,433.1 L1249.1,435.0 L1250.9,429.4 L1252.8,420.2 L1257.4,419.6 L1259.3,415.6 L1265.7,411.9 L1267.6,405.9 L1271.3,399.8 L1274.1,399.8 L1275.9,410.0 L1278.7,414.6 L1279.6,420.2 L1282.4,424.4 L1287.0,422.6 L1290.7,424.8 L1295.4,424.8 L1300.9,432.6 L1303.7,432.2 L1305.6,428.5 L1308.3,428.1 L1313.0,432.2 L1317.6,435.0 L1320.4,440.6 L1324.1,444.3 L1328.5,445.0 L1332.2,449.5 L1337.0,447.0 L1341.3,452.2 L1345.0,454.6 L1350.6,453.7 L1351.9,460.6 L1356.1,460.6 L1357.0,450.7 L1359.3,450.7 L1360.4,455.6 L1363.5,455.0 L1368.1,452.2 L1373.7,451.9 L1380.2,453.1 L1384.8,450.4 L1389.4,454.1 L1394.1,452.6 L1400.6,452.6 L1402.4,450.0 L1406.1,448.9 L1411.7,450.7 L1416.3,455.0 L1420.9,459.6 L1425.6,465.2 L1428.3,467.4 L1430.2,466.1 L1431.7,455.9 L1438.5,453.7 L1442.9,447.5 L1447.8,443.6 L1453.1,442.0 L1456.4,443.2 L1457.5,448.7 L1461.3,448.9 L1463.1,443.3 L1468.7,442.6 L1471.1,447.0 L1473.3,447.0 L1475.6,444.8 L1478.9,445.2 L1483.5,450.0 L1487.2,451.3 L1490.9,448.5 L1493.7,451.3 L1498.3,455.0 L1502.0,455.6 L1503.9,447.6 L1507.6,444.4 L1512.2,444.4 L1515.0,446.7 L1516.9,450.0 L1525.2,450.7 L1528.9,453.1 L1536.3,455.0 L1540.0,454.4" fill="none" stroke="#501a5e" stroke-width="4.3" stroke-linejoin="round" stroke-linecap="butt"/>
<g fill="none" stroke-linecap="square"><line x1="110.75" y1="69.15" x2="1606.9" y2="69.15" stroke="#151515" stroke-width="1.7"/><line x1="110.75" y1="69.15" x2="110.75" y2="606.0" stroke="#2a2a2a" stroke-width="1.5"/><line x1="110.75" y1="606.0" x2="1606.9" y2="606.0" stroke="#2a2a2a" stroke-width="1.5"/><line x1="1606.95" y1="69.15" x2="1606.95" y2="606.0" stroke="#3a3a3a" stroke-width="1.15"/></g>
<g stroke="#1c1c1c" stroke-width="1.5">
<line x1="152.70" y1="606.0" x2="152.70" y2="613.40"/>
<line x1="437.06" y1="606.0" x2="437.06" y2="613.40"/>
<line x1="721.43" y1="606.0" x2="721.43" y2="613.40"/>
<line x1="1005.79" y1="606.0" x2="1005.79" y2="613.40"/>
<line x1="1290.94" y1="606.0" x2="1290.94" y2="613.40"/>
<line x1="1575.30" y1="606.0" x2="1575.30" y2="613.40"/>
<line x1="103.15" y1="602.30" x2="110.75" y2="602.30"/>
<line x1="103.15" y1="535.85" x2="110.75" y2="535.85"/>
<line x1="103.15" y1="469.40" x2="110.75" y2="469.40"/>
<line x1="103.15" y1="402.95" x2="110.75" y2="402.95"/>
<line x1="103.15" y1="336.50" x2="110.75" y2="336.50"/>
<line x1="103.15" y1="270.05" x2="110.75" y2="270.05"/>
<line x1="103.15" y1="203.60" x2="110.75" y2="203.60"/>
<line x1="103.15" y1="137.15" x2="110.75" y2="137.15"/>
<line x1="103.15" y1="70.70" x2="110.75" y2="70.70"/>
</g>
<text class="tk" x="135.70" y="632.8" textLength="34.2" lengthAdjust="spacingAndGlyphs">2021</text>
<text class="tk" x="420.06" y="632.8" textLength="34.2" lengthAdjust="spacingAndGlyphs">2022</text>
<text class="tk" x="704.43" y="632.8" textLength="34.2" lengthAdjust="spacingAndGlyphs">2023</text>
<text class="tk" x="988.79" y="632.8" textLength="34.2" lengthAdjust="spacingAndGlyphs">2024</text>
<text class="tk" x="1273.94" y="632.8" textLength="34.2" lengthAdjust="spacingAndGlyphs">2025</text>
<text class="tk" x="1558.30" y="632.8" textLength="34.2" lengthAdjust="spacingAndGlyphs">2026</text>
<text class="tk" x="66.90" y="608.60" textLength="29.6" lengthAdjust="spacingAndGlyphs">−40</text>
<text class="tk" x="66.90" y="542.15" textLength="29.6" lengthAdjust="spacingAndGlyphs">−20</text>
<text class="tk" x="87.90" y="475.70" textLength="8.6" lengthAdjust="spacingAndGlyphs">0</text>
<text class="tk" x="79.50" y="409.25" textLength="17.0" lengthAdjust="spacingAndGlyphs">20</text>
<text class="tk" x="79.50" y="342.80" textLength="17.0" lengthAdjust="spacingAndGlyphs">40</text>
<text class="tk" x="79.50" y="276.35" textLength="17.0" lengthAdjust="spacingAndGlyphs">60</text>
<text class="tk" x="79.50" y="209.90" textLength="17.0" lengthAdjust="spacingAndGlyphs">80</text>
<text class="tk" x="71.70" y="143.45" textLength="24.8" lengthAdjust="spacingAndGlyphs">100</text>
<text class="tk" x="71.70" y="77.00" textLength="24.8" lengthAdjust="spacingAndGlyphs">120</text>
<text font-size="29.2" fill="#3c3c3c" y="58.1"><tspan x="562.5" textLength="72.1" lengthAdjust="spacingAndGlyphs">Figure</tspan><tspan x="643.1">1</tspan><tspan x="664.8">-</tspan><tspan x="682.7" textLength="53.8" lengthAdjust="spacingAndGlyphs">BTC</tspan><tspan x="746.0" textLength="56.0" lengthAdjust="spacingAndGlyphs">carry</tspan><tspan x="812.5" textLength="47.1" lengthAdjust="spacingAndGlyphs">with</tspan><tspan x="870.0" textLength="58.8" lengthAdjust="spacingAndGlyphs">7-day</tspan><tspan x="940.4" textLength="81.6" lengthAdjust="spacingAndGlyphs">median</tspan><tspan x="1031.7" textLength="124.1" lengthAdjust="spacingAndGlyphs">smoothing</tspan></text>
<text font-size="28.8" fill="#3c3c3c" x="789.4" y="665" textLength="138.5" lengthAdjust="spacingAndGlyphs">Date (UTC)</text>
<text font-size="28.8" fill="#3c3c3c" transform="translate(51.4,452.3) rotate(-90)" x="0" y="0" textLength="229.6" lengthAdjust="spacingAndGlyphs">Annualized rate (%)</text>
<text font-size="18" fill="#444" x="770.8" y="692.7" textLength="96.9" lengthAdjust="spacingAndGlyphs">Source: BSIC</text>
<line x1="126.5" y1="92.5" x2="166.2" y2="92.5" stroke="#d7e6fb" stroke-width="2.2"/>
<line x1="125.6" y1="120.2" x2="167.1" y2="120.2" stroke="#501a5e" stroke-width="4.6"/>
<text font-size="17.8" fill="#555" x="180.1" y="99.5" textLength="79.4" lengthAdjust="spacingAndGlyphs">Daily carry</text>
<text font-size="17.8" fill="#555" x="180.8" y="127.2" textLength="125" lengthAdjust="spacingAndGlyphs">7D median Carry</text>
<defs><linearGradient id="lg" x1="0" y1="0" x2="0" y2="1"><stop offset="0" stop-color="#1a127c"/><stop offset="0.55" stop-color="#251c88"/><stop offset="1" stop-color="#3f37a6"/></linearGradient></defs>
<rect x="1455.6" y="648.9" width="21.7" height="20.8" fill="url(#lg)"/>
<path d="M1455.6,669.7 L1455.6,667 L1460.2,664.7 L1464,665.4 L1468.7,663.1 L1472.7,663.9 L1477.3,661.9 L1477.3,669.7 Z" fill="#463eae" opacity="0.75"/>
<path d="M1455.9,667 L1460.2,664.7 L1464,665.4 L1468.7,663.1 L1472.7,663.9 L1477.1,661.9" fill="none" stroke="#cfcdf0" stroke-width="0.6"/>
<text class="sans" font-size="9.9" fill="#ffffff" stroke="#ffffff" stroke-width="0.25" x="1456.8" y="661.0" textLength="19.6" lengthAdjust="spacingAndGlyphs">BSIC</text>
<text class="sans" font-size="9.5" fill="#34326f" x="1480.9" y="657.6" textLength="91.4" lengthAdjust="spacingAndGlyphs">BOCCONI STUDENTS</text>
<text class="sans" font-size="9.5" font-weight="bold" fill="#1b1a48" x="1480.9" y="667.8" textLength="91.4" lengthAdjust="spacingAndGlyphs">INVESTMENT CLUB</text>

</svg></body></html>
